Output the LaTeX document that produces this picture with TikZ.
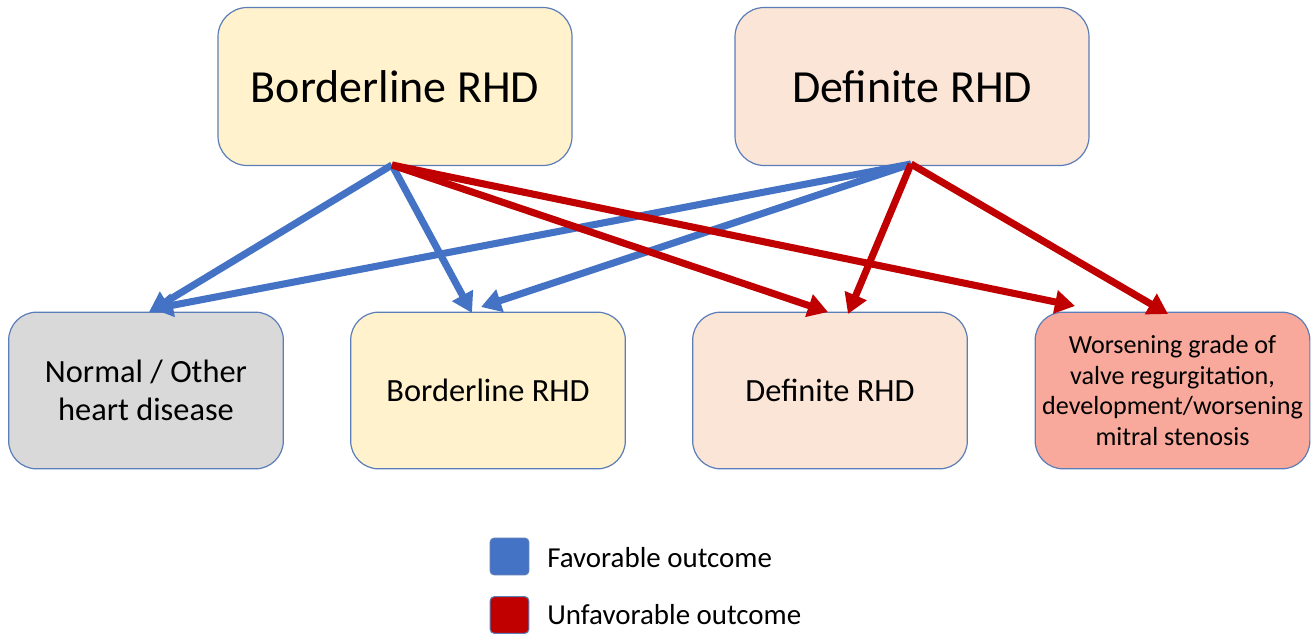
\documentclass[tikz,border=0pt]{standalone}
\usepackage{fontspec}
\setmainfont{Carlito}
\usetikzlibrary{arrows.meta}
\definecolor{fav}{HTML}{4472C4}
\definecolor{unfav}{HTML}{C00000}
\definecolor{edgec}{HTML}{5B7DB8}
\definecolor{blfill}{HTML}{FFF2CC}
\definecolor{dffill}{HTML}{FBE5D6}
\definecolor{nmfill}{HTML}{D9D9D9}
\definecolor{wsfill}{HTML}{F8A99B}
\begin{document}
\begin{tikzpicture}[x=0.75pt,y=-0.75pt,
  box/.style={draw=edgec, line width=0.9pt, align=center, inner sep=0pt},
  topbox/.style={box, minimum width=265.5pt, minimum height=118.5pt, rounded corners=22pt,
    font=\fontsize{34.5}{41}\selectfont},
  botbox/.style={box, minimum width=206pt, minimum height=117.5pt, rounded corners=21pt,
    font=\fontsize{24.3}{28}\selectfont},
  favarrow/.style={draw=fav, line width=5.3pt, -{Triangle[length=15pt,width=17pt]}},
  unfavarrow/.style={draw=unfav, line width=5.3pt, -{Triangle[length=15pt,width=17pt]}},
  legsq/.style={draw=edgec, line width=0.8pt, rounded corners=3pt, minimum width=29pt, minimum height=27.5pt, inner sep=0pt},
  legtxt/.style={anchor=base west, inner sep=0pt, font=\fontsize{21.7}{26}\selectfont}
]
\useasboundingbox (0,0) rectangle (1313,636);

% top boxes
\node[topbox, fill=blfill] (btop) at (395,86.5) {Borderline RHD};
\node[topbox, fill=dffill] (dtop) at (912,86.5) {Definite RHD};

% bottom boxes
\node[botbox, fill=nmfill] (normal) at (146,390.5) {Normal / Other\\heart disease};
\node[botbox, fill=blfill] (bbot) at (488,390.5) {Borderline RHD};
\node[botbox, fill=dffill] (dbot) at (830,390.5) {Definite RHD};
\node[botbox, fill=wsfill, font=\fontsize{19.6}{23.1}\selectfont] (ws) at (1172.5,390.5)
  {Worsening grade of\\valve regurgitation,\\development/worsening\\mitral stenosis};

% connector end points
\coordinate (bs) at (392,165);
\coordinate (ds) at (911,164);
\coordinate (tN1) at (149,312);
\coordinate (tN2) at (153,309);
\coordinate (tB1) at (472,313);
\coordinate (tB2) at (481,307);
\coordinate (tD1) at (828,312);
\coordinate (tD2) at (848,314);
\coordinate (tW1) at (1075,306);
\coordinate (tW2) at (1168,314);

% favorable
\draw[favarrow] (bs) -- (tN1);
\draw[favarrow] (bs) -- (tB1);
\draw[favarrow] (ds) -- (tN2);
\draw[favarrow] (ds) -- (tB2);
% unfavorable
\draw[unfavarrow] (bs) -- (tD1);
\draw[unfavarrow] (bs) -- (tW1);
\draw[unfavarrow] (ds) -- (tD2);
\draw[unfavarrow] (ds) -- (tW2);

% legend
\node[legsq, fill=fav] (lf) at (509.5,556.5) {};
\node[legsq, fill=unfav] (lu) at (509.5,615) {};
\node[legtxt] (lft) at (547,567) {Favorable outcome};
\node[legtxt] (lut) at (547,624) {Unfavorable outcome};
\end{tikzpicture}
\end{document}
